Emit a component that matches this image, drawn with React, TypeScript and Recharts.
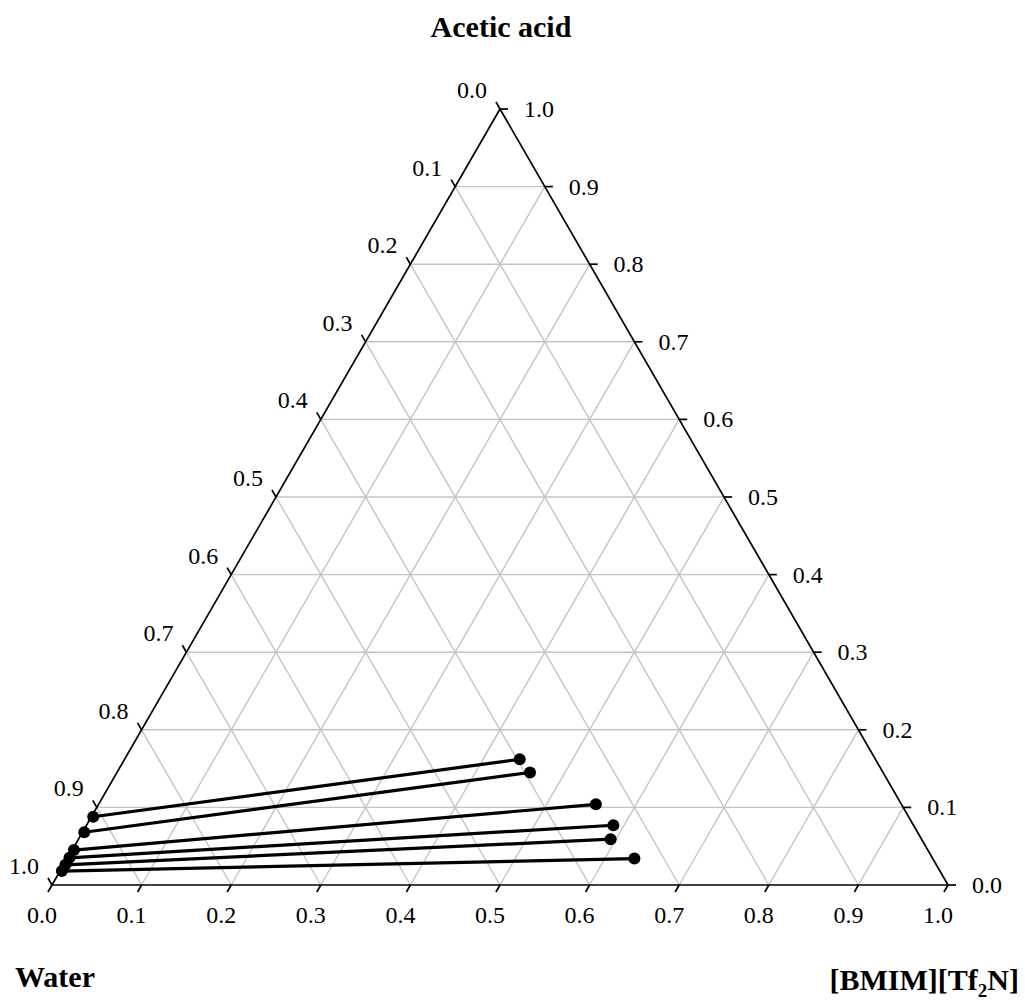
import { ReferenceDot, ReferenceLine, Scatter, ScatterChart, XAxis, YAxis } from "recharts";

// Tie-line end compositions (mass fractions)
const aqAcid = [0.088, 0.068, 0.045, 0.035, 0.026, 0.018];
const aqIL = [0.002, 0.002, 0.002, 0.002, 0.002, 0.002];
const ilAcid = [0.162, 0.145, 0.104, 0.077, 0.059, 0.034];
const ilIL = [0.441, 0.461, 0.555, 0.588, 0.594, 0.633];

const tickValues = [0, 0.1, 0.2, 0.3, 0.4, 0.5, 0.6, 0.7, 0.8, 0.9, 1];
const tickLabels = ["0.0", "0.1", "0.2", "0.3", "0.4", "0.5", "0.6", "0.7", "0.8", "0.9", "1.0"];
const gridLevels = [0.1, 0.2, 0.3, 0.4, 0.5, 0.6, 0.7, 0.8, 0.9];

const SQ = Math.sqrt(3) / 2;
const TICK = 0.009;
const FONT = "'Times New Roman', 'Liberation Serif', serif";

// ternary (acid, IL) -> cartesian
const toXY = (a: number, b: number) => ({ x: b + a / 2, y: a * SQ });

const tieLines = aqAcid.map((a, i) => [toXY(a, aqIL[i]), toXY(ilAcid[i], ilIL[i])]);

type Seg = [{ x: number; y: number }, { x: number; y: number }];

const gridSegs: Seg[] = [];
gridLevels.forEach((v) => {
  gridSegs.push([toXY(v, 0), toXY(v, 1 - v)]); // constant acid
  gridSegs.push([toXY(0, v), toXY(1 - v, v)]); // constant IL
  gridSegs.push([toXY(1 - v, 0), toXY(0, 1 - v)]); // constant water
});

const edges: Seg[] = [
  [toXY(0, 0), toXY(0, 1)],
  [toXY(0, 1), toXY(1, 0)],
  [toXY(1, 0), toXY(0, 0)],
];

const tickSegs: Seg[] = [];
tickValues.forEach((v) => {
  const b = toXY(0, v);
  tickSegs.push([b, { x: b.x - TICK * 0.5, y: b.y - TICK * SQ }]);
  const l = toXY(1 - v, 0);
  tickSegs.push([l, { x: l.x - TICK * 0.5, y: l.y + TICK * SQ }]);
  const r = toXY(v, 1 - v);
  tickSegs.push([r, { x: r.x + TICK, y: r.y }]);
});

const labelText =
  (text: string, dx: number, dy: number, anchor: "start" | "middle" | "end", size = 24, bold = false) =>
  (props: any) => (
    <text
      x={props.cx + dx}
      y={props.cy + dy}
      textAnchor={anchor}
      fontFamily={FONT}
      fontSize={size}
      fontWeight={bold ? "bold" : "normal"}
      fill="#000"
    >
      {text}
    </text>
  );

const dot = (props: any) => <circle cx={props.cx} cy={props.cy} r={6} fill="#000" />;

export default function App() {
  return (
    <div style={{ position: "absolute", left: 0, top: 0, width: 1025, height: 1003, background: "#fff" }}>
      <ScatterChart width={1025} height={1003} margin={{ top: 109, right: 77, bottom: 118, left: 52 }}>
        <XAxis type="number" dataKey="x" domain={[0, 1]} allowDataOverflow hide />
        <YAxis type="number" dataKey="y" domain={[0, SQ]} allowDataOverflow hide />

        {gridSegs.map((s, i) => (
          <ReferenceLine key={`g${i}`} segment={s} stroke="#c4c4c4" strokeWidth={1.4} ifOverflow="visible" />
        ))}
        {edges.map((s, i) => (
          <ReferenceLine key={`e${i}`} segment={s} stroke="#000" strokeWidth={1.7} ifOverflow="visible" />
        ))}
        {tickSegs.map((s, i) => (
          <ReferenceLine key={`t${i}`} segment={s} stroke="#000" strokeWidth={1.7} ifOverflow="visible" />
        ))}

        {tieLines.map((pts, i) => (
          <Scatter
            key={`tie${i}`}
            data={pts}
            line={{ stroke: "#000", strokeWidth: 3.2 }}
            lineType="joint"
            shape={dot}
            fill="#000"
            isAnimationActive={false}
          />
        ))}

        {tickValues.map((v, i) => {
          const b = toXY(0, v);
          const l = toXY(1 - v, 0);
          const r = toXY(v, 1 - v);
          return [
            <ReferenceDot key={`bl${i}`} x={b.x} y={b.y} r={0} ifOverflow="visible" shape={labelText(tickLabels[i], -10, 38, "middle")} />,
            <ReferenceDot key={`ll${i}`} x={l.x} y={l.y} r={0} ifOverflow="visible" shape={labelText(tickLabels[i], -28, -11, "middle")} />,
            <ReferenceDot key={`rl${i}`} x={r.x} y={r.y} r={0} ifOverflow="visible" shape={labelText(tickLabels[i], 24, 8, "start")} />,
          ];
        })}

        <ReferenceDot x={0.5} y={SQ} r={0} ifOverflow="visible" shape={labelText("Acetic acid", 1, -72, "middle", 30, true)} />
        <ReferenceDot x={0} y={0} r={0} ifOverflow="visible" shape={labelText("Water", -37, 102, "start", 30, true)} />
        <ReferenceDot
          x={1}
          y={0}
          r={0}
          ifOverflow="visible"
          shape={(props: any) => (
            <text x={props.cx + 71} y={props.cy + 105} textAnchor="end" fontFamily={FONT} fontSize={30} fontWeight="bold" fill="#000">
              [BMIM][Tf
              <tspan fontSize={19} dy={7}>2</tspan>
              <tspan dy={-7}>N]</tspan>
            </text>
          )}
        />
      </ScatterChart>
    </div>
  );
}
